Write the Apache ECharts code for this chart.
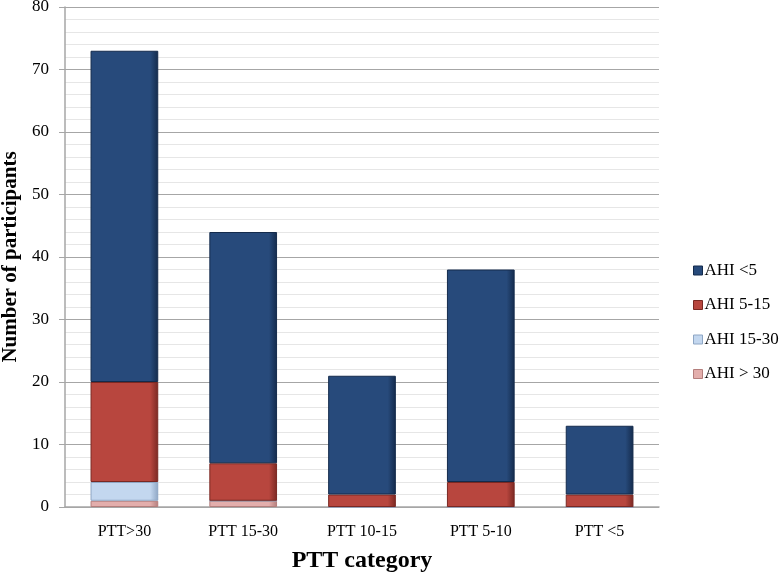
<!DOCTYPE html>
<html>
<head>
<meta charset="utf-8">
<script src="https://cdn.jsdelivr.net/npm/echarts@6/dist/echarts.min.js"></script>
<style>
  html, body { margin: 0; padding: 0; background: #fff; }
  #chart { width: 780px; height: 576px; }
</style>
</head>
<body>
<div id="chart"></div>
<script>
// categories along x
const categories = ["PTT>30", "PTT 15-30", "PTT 10-15", "PTT 5-10", "PTT <5"];

// stacked counts, bottom to top
const ahiOver30 = [1, 1, 0, 0, 0];
const ahi15to30 = [3, 0, 0, 0, 0];
const ahi5to15 = [16, 6, 2, 4, 2];
const ahiUnder5 = [53, 37, 19, 34, 11];

const seriesNames = ["AHI > 30", "AHI 15-30", "AHI 5-15", "AHI <5"];
const seriesColors = ["#e3aeac", "#c3d7ef", "#b8463e", "#274a7b"];
const edgeColors = ["#b47e7c", "#8ea6c4", "#7a2822", "#142b4c"];
const yTicks = [0, 10, 20, 30, 40, 50, 60, 70, 80];

const chart = echarts.init(document.getElementById("chart"));

// fake the bevel a bit with a horizontal gradient
function bevel(i) {
    return new echarts.graphic.LinearGradient(0, 0, 1, 0, [
        { offset: 0, color: seriesColors[i] },
        { offset: 0.88, color: seriesColors[i] },
        { offset: 1, color: edgeColors[i] }
    ]);
}

const dataSets = [ahiOver30, ahi15to30, ahi5to15, ahiUnder5];
const serif = "Liberation Serif";

const option = {
    animation: false,
    backgroundColor: "#fff",
    grid: { left: 65, right: 121, top: 7, bottom: 69, outerBoundsMode: "none" },
    legend: {
        orient: "vertical",
        left: 688,
        top: 257,
        itemWidth: 9,
        itemHeight: 9,
        itemGap: 17.5,
        icon: "rect",
        textStyle: { fontFamily: serif, fontSize: 17, color: "#000", padding: [0, 0, 0, -3] },
        data: ["AHI <5", "AHI 5-15", "AHI 15-30", "AHI > 30"].map(n => ({
            name: n,
            itemStyle: {
                color: seriesColors[seriesNames.indexOf(n)],
                borderColor: edgeColors[seriesNames.indexOf(n)],
                borderWidth: 1
            }
        }))
    },
    xAxis: {
        type: "category",
        data: categories,
        name: "PTT category",
        nameLocation: "middle",
        nameGap: 42,
        nameTextStyle: { fontFamily: serif, fontWeight: "bold", fontSize: 24, color: "#000" },
        axisLine: { lineStyle: { color: "#a6a6a6", width: 1.5 } },
        axisTick: { show: false },
        axisLabel: { fontFamily: serif, fontSize: 16, color: "#000", margin: 17 }
    },
    yAxis: {
        type: "value",
        min: yTicks[0],
        max: yTicks[yTicks.length - 1],
        interval: 10,
        name: "Number of participants",
        nameLocation: "middle",
        nameGap: 42,
        nameTextStyle: { fontFamily: serif, fontWeight: "bold", fontSize: 21, color: "#000" },
        axisLine: { show: true, lineStyle: { color: "#a6a6a6", width: 1.5 } },
        axisTick: { show: true, length: 6, lineStyle: { color: "#a6a6a6" } },
        axisLabel: { fontFamily: serif, fontSize: 17, color: "#000", margin: 16 },
        splitLine: { lineStyle: { color: "#a6a6a6", width: 1.2 } },
        minorTick: { show: false, splitNumber: 5 },
        minorSplitLine: { show: true, lineStyle: { color: "#e6e6e6", width: 1.2 } }
    },
    series: dataSets.map((d, i) => ({
        name: seriesNames[i],
        type: "bar",
        stack: "total",
        barWidth: "57%",
        data: d,
        itemStyle: {
            color: bevel(i),
            borderColor: edgeColors[i],
            borderWidth: 1
        },
        emphasis: { disabled: true }
    }))
};

chart.setOption(option);
</script>
</body>
</html>
